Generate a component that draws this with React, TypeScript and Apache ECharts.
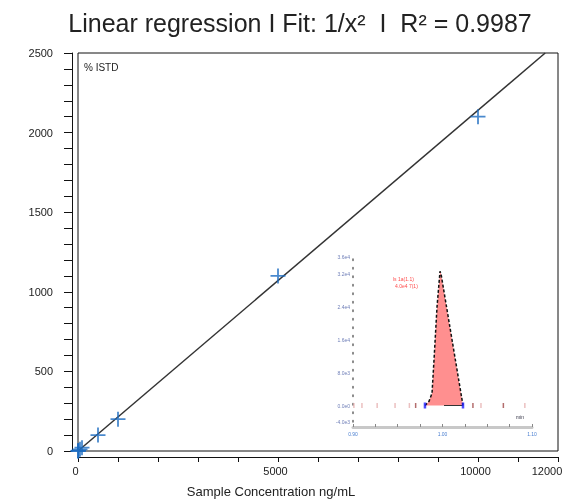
import React, { useEffect, useRef } from "react";
import * as echarts from "echarts";

// Calibration data (main chart)
const concentrations = [1, 5, 10, 50, 100, 500, 1000, 5000, 10000];
const responses = [0.2, 1.1, 2.1, 10.5, 21, 100, 200, 1100, 2100];
const fitX = [0, 11680];
const fitY = [0, 2500];
const xLabelValues = [0, 5000, 10000, 12000];

// Inset chromatogram
const peakTimes = [0.9804, 0.9849, 0.9883, 0.9905, 0.9939, 0.9972, 0.9983, 1.0106, 1.0229];
const peakHeights = [0, 1000, 3000, 11000, 24000, 32500, 32000, 16000, 0];
const baselineTimes = [1.0017, 1.0229];
const boundaryTimes = [0.9804, 1.0229];
const faintTickTimes = [0.901, 0.91, 0.927, 0.947, 0.963, 1.043, 1.092];
const darkTickTimes = [0.97, 1.034, 1.068];
const insetYLabels = [-4000, 0, 8000, 16000, 24000, 32000, 36000];
const insetXLabels = [0.9, 1.0, 1.1];

const FONT = '"Liberation Sans", Arial, sans-serif';

function expLabel(v: number): string {
  if (v === 0) return "0.0e0";
  const sign = v < 0 ? "-" : "";
  const a = Math.abs(v);
  const e = Math.floor(Math.log10(a));
  const m = a / Math.pow(10, e);
  return `${sign}${m.toFixed(1)}e${e}`;
}

export default function App() {
  const ref = useRef<HTMLDivElement>(null);
  useEffect(() => {
    if (!ref.current) return;
    const chart = echarts.init(ref.current, undefined, { renderer: "svg" });
    const option: any = {
      animation: false,
      textStyle: { fontFamily: FONT },
      grid: [
        {
          left: 78,
          top: 53,
          width: 480,
          height: 398,
          show: true,
          borderColor: "#111",
          borderWidth: 1,
          backgroundColor: "transparent",
        },
        { left: 353, top: 257, width: 179, height: 165, show: false },
      ],
      xAxis: [
        {
          gridIndex: 0,
          type: "value",
          min: 0,
          max: 12000,
          interval: 1000,
          offset: 6,
          axisLine: { show: true, onZero: false, lineStyle: { color: "#111", width: 1 } },
          axisTick: { show: true, length: 5, lineStyle: { color: "#111" } },
          axisLabel: {
            fontSize: 11,
            color: "#222",
            margin: 8,
            formatter: (v: number) => {
              if (!xLabelValues.includes(v)) return "";
              return v === 12000 ? `{e|${v}}` : `{n|${v}}`;
            },
            rich: {
              n: { fontSize: 11, color: "#222", padding: [0, 5, 0, 0] },
              e: { fontSize: 11, color: "#222", padding: [0, 22, 0, 0] },
            },
          },
          splitLine: { show: false },
        },
        {
          gridIndex: 1,
          type: "value",
          min: 0.9,
          max: 1.1,
          interval: 0.025,
          offset: 5,
          axisLine: { show: true, onZero: false, lineStyle: { color: "#c8c8c8", width: 3 } },
          axisTick: { show: true, inside: true, length: 3, lineStyle: { color: "#888" } },
          axisLabel: {
            fontSize: 5,
            color: "#4a7fd0",
            margin: 4,
            customValues: insetXLabels,
            formatter: (v: number) => v.toFixed(2),
          },
          splitLine: { show: false },
        },
      ],
      yAxis: [
        {
          gridIndex: 0,
          type: "value",
          min: 0,
          max: 2500,
          interval: 500,
          offset: 6,
          axisLine: { show: true, onZero: false, lineStyle: { color: "#111", width: 1 } },
          axisTick: { show: true, length: 8, lineStyle: { color: "#111" } },
          minorTick: { show: true, splitNumber: 5, length: 8, lineStyle: { color: "#111" } },
          axisLabel: {
            fontSize: 11,
            color: "#222",
            margin: 19,
            formatter: (v: number) => String(v),
          },
          splitLine: { show: false },
        },
        {
          gridIndex: 1,
          type: "value",
          min: -4000,
          max: 36000,
          axisLine: {
            show: true,
            onZero: false,
            lineStyle: { color: "#666", width: 1.5, type: [1.5, 7] },
          },
          axisTick: { show: false },
          axisLabel: {
            fontSize: 5,
            color: "#6f7fb8",
            margin: 3,
            customValues: insetYLabels,
            formatter: (v: number) => expLabel(v),
          },
          splitLine: { show: false },
        },
      ],
      series: [
        {
          type: "line",
          xAxisIndex: 0,
          yAxisIndex: 0,
          data: fitX.map((x, i) => [x, fitY[i]]),
          symbol: "none",
          lineStyle: { color: "#333", width: 1.5 },
          silent: true,
          z: 2,
        },
        {
          type: "scatter",
          xAxisIndex: 0,
          yAxisIndex: 0,
          data: concentrations.map((c, i) => [c, responses[i]]),
          symbol: "path://M7,0L7,14M0,7L14,7",
          symbolSize: 15,
          itemStyle: { color: "none", borderColor: "#1b6cc0", borderWidth: 1.8 },
          z: 3,
        },
        {
          type: "line",
          xAxisIndex: 1,
          yAxisIndex: 1,
          data: peakTimes.map((t, i) => [t, peakHeights[i]]),
          symbol: "none",
          lineStyle: { color: "#111", width: 1.5, type: [3, 2] },
          areaStyle: { color: "#ff8f8f", opacity: 1 },
          z: 2,
        },
        {
          type: "line",
          xAxisIndex: 1,
          yAxisIndex: 1,
          data: baselineTimes.map((t) => [t, 0]),
          symbol: "none",
          lineStyle: { color: "#333", width: 1 },
          z: 3,
        },
        {
          type: "scatter",
          xAxisIndex: 1,
          yAxisIndex: 1,
          data: faintTickTimes.map((t) => [t, 0]),
          symbol: "rect",
          symbolSize: [1.5, 5],
          itemStyle: { color: "#e6b0b0" },
          z: 3,
        },
        {
          type: "scatter",
          xAxisIndex: 1,
          yAxisIndex: 1,
          data: darkTickTimes.map((t) => [t, 0]),
          symbol: "rect",
          symbolSize: [1.5, 5],
          itemStyle: { color: "#a04848" },
          z: 3,
        },
        {
          type: "scatter",
          xAxisIndex: 1,
          yAxisIndex: 1,
          data: boundaryTimes.map((t) => [t, 0]),
          symbol: "rect",
          symbolSize: [2.5, 6],
          itemStyle: { color: "#2020ff" },
          z: 4,
        },
      ],
      graphic: [
        {
          type: "text",
          x: 300,
          y: 23,
          style: {
            text: "Linear regression I Fit: 1/x²  I  R² = 0.9987",
            font: `25px ${FONT}`,
            fill: "#222",
            textAlign: "center",
            textVerticalAlign: "middle",
          },
        },
        {
          type: "text",
          x: 271,
          y: 491,
          style: {
            text: "Sample Concentration ng/mL",
            font: `13px ${FONT}`,
            fill: "#222",
            textAlign: "center",
            textVerticalAlign: "middle",
          },
        },
        {
          type: "text",
          x: 84,
          y: 67,
          style: {
            text: "% ISTD",
            font: `10px ${FONT}`,
            fill: "#222",
            textAlign: "left",
            textVerticalAlign: "middle",
          },
        },
        {
          type: "text",
          x: 393,
          y: 279,
          style: {
            text: "ls 1a(1.1)",
            font: `5px ${FONT}`,
            fill: "#ff4b4b",
            textAlign: "left",
            textVerticalAlign: "middle",
          },
        },
        {
          type: "text",
          x: 395,
          y: 286,
          style: {
            text: "4.0e4 7(1)",
            font: `5px ${FONT}`,
            fill: "#ff4b4b",
            textAlign: "left",
            textVerticalAlign: "middle",
          },
        },
        {
          type: "text",
          x: 516,
          y: 417,
          style: {
            text: "min",
            font: `5px ${FONT}`,
            fill: "#334",
            textAlign: "left",
            textVerticalAlign: "middle",
          },
        },
      ],
    };
    chart.setOption(option);
    return () => chart.dispose();
  }, []);
  return (
    <div
      ref={ref}
      style={{ position: "fixed", left: 0, top: 0, width: 568, height: 500 }}
    />
  );
}
